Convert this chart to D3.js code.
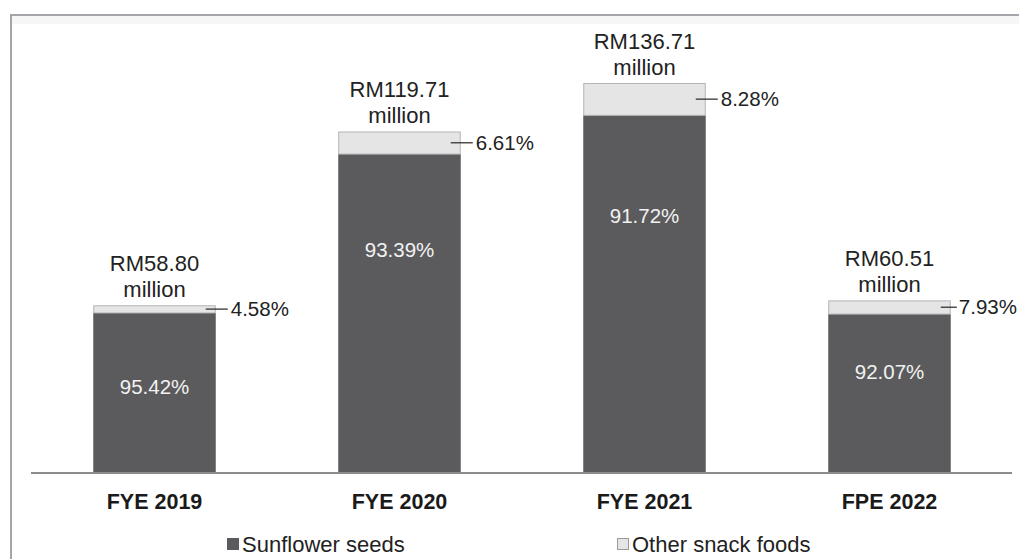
<!DOCTYPE html>
<html>
<head>
<meta charset="utf-8">
<script src="https://cdn.jsdelivr.net/npm/d3@7"></script>
<style>
  html, body { margin: 0; padding: 0; background: #fff; }
  svg { display: block; font-family: "Liberation Sans", Arial, sans-serif; }
</style>
</head>
<body>
<svg id="chart" width="1019" height="559"></svg>
<script>
// data
var periods = ["FYE 2019", "FYE 2020", "FYE 2021", "FPE 2022"];
var totals = [58.80, 119.71, 136.71, 60.51];          // RM million
var seedsPct = [95.42, 93.39, 91.72, 92.07];
var otherPct = [4.58, 6.61, 8.28, 7.93];
var seriesNames = ["Sunflower seeds", "Other snack foods"];

// where the inner % label sits, as share of the dark segment
var innerLabelAt = [0.54, 0.70, 0.72, 0.635];

var colSeeds = "#5b5b5d",
    colOther = "#e5e5e5";

var svg = d3.select("#chart"),
    width = +svg.attr("width"),
    height = +svg.attr("height");

var baseY = 473;

var x = d3.scaleBand()
    .domain(periods)
    .range([32, 1012])
    .paddingInner(0.5)
    .paddingOuter(0.25);

var y = d3.scaleLinear()
    .domain([0, 136.71])
    .range([baseY, 83]);

var rows = periods.map(function(p, i) {
    var seeds = totals[i] * seedsPct[i] / 100;
    return {period: p, total: totals[i], seeds: seeds, seedsPct: seedsPct[i],
            otherPct: otherPct[i], at: innerLabelAt[i]};
});

// frame
svg.append("path")
    .attr("d", "M11," + height + "V15H" + width)
    .attr("fill", "none")
    .attr("stroke", "#a4a4ab")
    .attr("stroke-width", 2);
svg.append("rect")
    .attr("x", 12).attr("y", 16).attr("width", width - 12).attr("height", 8)
    .attr("fill", "#f6f6f6");

var bar = svg.selectAll(".bar")
    .data(rows)
    .enter().append("g")
    .attr("class", "bar");

// dark part
bar.append("rect")
    .attr("x", function(d) { return x(d.period); })
    .attr("width", x.bandwidth())
    .attr("y", function(d) { return y(d.seeds); })
    .attr("height", function(d) { return baseY - y(d.seeds); })
    .attr("fill", colSeeds);

// light part on top
bar.append("rect")
    .attr("x", function(d) { return x(d.period) + 0.5; })
    .attr("width", x.bandwidth() - 1)
    .attr("y", function(d) { return y(d.total) + 0.5; })
    .attr("height", function(d) { return y(d.seeds) - y(d.total) - 0.5; })
    .attr("fill", colOther)
    .attr("stroke", "#b4b4b4")
    .attr("stroke-width", 1);

// inner %
bar.append("text")
    .attr("x", function(d) { return x(d.period) + x.bandwidth() / 2; })
    .attr("y", function(d) { return y(d.seeds * d.at); })
    .attr("dy", "0.35em")
    .attr("text-anchor", "middle")
    .attr("font-size", 20.5)
    .attr("fill", "#f2f2f2")
    .text(function(d) { return d.seedsPct.toFixed(2) + "%"; });

// callout for the small share
var callLine = bar.append("line")
    .attr("x1", function(d) { return x(d.period) + x.bandwidth() - 10; })
    .attr("x2", function(d) { return x(d.period) + x.bandwidth() + 12; })
    .attr("y1", function(d) { return (y(d.total) + y(d.seeds)) / 2; })
    .attr("y2", function(d) { return (y(d.total) + y(d.seeds)) / 2; })
    .attr("stroke", "#333")
    .attr("stroke-width", 1.3);

var callText = bar.append("text")
    .attr("x", function(d) { return x(d.period) + x.bandwidth() + 15; })
    .attr("y", function(d) { return (y(d.total) + y(d.seeds)) / 2; })
    .attr("dy", "0.35em")
    .attr("font-size", 20.5)
    .attr("fill", "#222")
    .text(function(d) { return d.otherPct.toFixed(2) + "%"; });

// pull the last callout in so it stays on the page
callText.each(function(d, i) {
    var t = d3.select(this),
        x0 = +t.attr("x"),
        w = this.getComputedTextLength();
    if (x0 + w > width - 2) {
        var nx = width - 2 - w;
        t.attr("x", nx);
        d3.select(callLine.nodes()[i]).attr("x2", nx - 2);
    }
});

// totals above
var tot = bar.append("text")
    .attr("text-anchor", "middle")
    .attr("font-size", 22)
    .attr("fill", "#222");
tot.append("tspan")
    .attr("x", function(d) { return x(d.period) + x.bandwidth() / 2; })
    .attr("y", function(d) { return y(d.total) - 34; })
    .text(function(d) { return "RM" + d.total.toFixed(2); });
tot.append("tspan")
    .attr("x", function(d) { return x(d.period) + x.bandwidth() / 2; })
    .attr("y", function(d) { return y(d.total) - 8; })
    .text("million");

// x axis
var xAxis = svg.append("g")
    .attr("transform", "translate(0," + baseY + ")")
    .call(d3.axisBottom(x).tickSize(0).tickPadding(21));
xAxis.select(".domain")
    .attr("d", "M31,0H1012")
    .attr("stroke", "#8c8c8c")
    .attr("stroke-width", 2);
xAxis.selectAll(".tick text")
    .attr("font-family", "'Liberation Sans', Arial, sans-serif")
    .attr("font-size", 21.5)
    .attr("font-weight", "bold")
    .attr("fill", "#1a1a1a");

// legend
var legend = svg.selectAll(".legend")
    .data(seriesNames)
    .enter().append("g")
    .attr("class", "legend")
    .attr("transform", function(d, i) { return "translate(" + [227, 617][i] + ",538)"; });

legend.append("rect")
    .attr("x", 0.5).attr("y", 0.5)
    .attr("width", 11).attr("height", 11)
    .attr("fill", function(d, i) { return i ? colOther : colSeeds; })
    .attr("stroke", function(d, i) { return i ? "#9a9a9a" : colSeeds; });

legend.append("text")
    .attr("x", 15)
    .attr("y", 14)
    .attr("font-size", 22)
    .attr("fill", "#222")
    .text(function(d) { return d; });
</script>
</body>
</html>
